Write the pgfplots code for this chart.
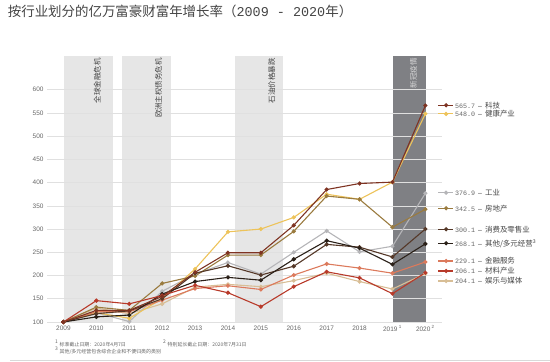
\documentclass[border=0pt]{standalone}
\usepackage{pgfplots}
\pgfplotsset{compat=1.18}
\usepackage{fontspec}
\setmainfont{Liberation Sans}
\newfontfamily\cjk{Noto Sans CJK SC}
\newfontfamily\monof{Liberation Mono}
\definecolor{cKeji}{HTML}{7E3322}
\definecolor{cHealth}{HTML}{EDC35A}
\definecolor{cInd}{HTML}{B5B5B8}
\definecolor{cReal}{HTML}{9A7B3F}
\definecolor{cCons}{HTML}{553828}
\definecolor{cOther}{HTML}{2A2018}
\definecolor{cFin}{HTML}{DC7A5C}
\definecolor{cMat}{HTML}{B83A2A}
\definecolor{cMedia}{HTML}{D8BE96}
\definecolor{cShade}{HTML}{E6E6E6}
\definecolor{cDark}{HTML}{7F8084}
\definecolor{cTxt}{HTML}{444444}
\definecolor{cTick}{HTML}{666666}
\newcommand{\leg}[4]{%
  \addplot[color=#1, mark=*, mark options={fill=#1}, mark indices={2}, forget plot] coordinates {(2020.39,#2) (2020.63,#2) (2020.84,#2)};
  \node[anchor=west, inner sep=0pt] at (axis cs:2020.9,#2) {{\fontsize{6.7}{7}\monof\color{cTick}#3}\hspace{3bp}{\fontsize{7}{7}\selectfont\color{cTxt}--}\hspace{3bp}{\fontsize{7.5}{8}\cjk\color{cTxt}#4}};
}
\begin{document}
\begin{tikzpicture}[x=1bp,y=1bp]
\node[anchor=base west, inner sep=0pt, text=cTxt] at (7.7,345) {\fontsize{13.5}{14}\cjk 按行业划分的亿万富豪财富年增长率（{\monof 2009 - 2020}年）};
\begin{axis}[
  at={(47bp,39bp)}, anchor=south west,
  width=394.8bp, height=266.3bp, scale only axis,
  xmin=2008.5, xmax=2020.5, ymin=100, ymax=673,
  axis line style={draw=none}, tick style={draw=none},
  ytick={100,150,200,250,300,350,400,450,500,550,600},
  ymajorgrids, grid style={color=black!12, line width=0.6bp},
  xtick={2009,2010,2011,2012,2013,2014,2015,2016,2017,2018,2019,2020},
  xticklabels={2009,2010,2011,2012,2013,2014,2015,2016,2017,2018,2019\textsuperscript{ 1},2020\textsuperscript{ 2}},
  tick label style={font=\fontsize{6.5}{7}\selectfont, text=cTick},
  /pgf/number format/assume math mode=true,
  clip=false, set layers,
  every axis plot/.append style={line width=1.1bp, mark size=1.5bp},
]
\begin{pgfonlayer}{axis background}
\fill[cShade] (axis cs:2009.02,100) rectangle (axis cs:2010.5,673);
\fill[cShade] (axis cs:2010.78,100) rectangle (axis cs:2012.26,673);
\fill[cShade] (axis cs:2014.2,100) rectangle (axis cs:2015.67,673);
\fill[cDark] (axis cs:2019.03,100) rectangle (axis cs:2020.03,673);
\end{pgfonlayer}
\node[rotate=90, anchor=east, inner sep=0pt, text=cTxt] at (axis cs:2010.03,668) {\fontsize{7.5}{8}\cjk 全球金融危机};
\node[rotate=90, anchor=east, inner sep=0pt, text=cTxt] at (axis cs:2011.89,668) {\fontsize{7.5}{8}\cjk 欧洲主权债务危机};
\node[rotate=90, anchor=east, inner sep=0pt, text=cTxt] at (axis cs:2015.33,668) {\fontsize{7.5}{8}\cjk 石油价格暴跌};
\node[rotate=90, anchor=east, inner sep=0pt, text=black!15] at (axis cs:2019.64,668) {\fontsize{7.5}{8}\cjk 新冠疫情};

% 娱乐与媒体
\addplot[color=cMedia, mark=*, mark options={fill=cMedia}] coordinates {
(2009,100)(2010,130)(2011,118)(2012,139)(2013,175)(2014,181)(2015,176)(2016,189)(2017,205)(2018,187)(2019,171)(2020,204.1)};
% 工业
\addplot[color=cInd, mark=*, mark options={fill=cInd}] coordinates {
(2009,100)(2010,120)(2011,101)(2012,166)(2013,203)(2014,228)(2015,203)(2016,250)(2017,296)(2018,251)(2019,263)(2020,376.9)};
% 健康产业
\addplot[color=cHealth, mark=*, mark options={fill=cHealth}] coordinates {
(2009,100)(2010,120)(2011,108)(2012,150)(2013,214)(2014,294)(2015,300)(2016,325)(2017,375)(2018,364)(2019,401)(2020,548.0)};
% 金融服务
\addplot[color=cFin, mark=*, mark options={fill=cFin}] coordinates {
(2009,100)(2010,122)(2011,122)(2012,147)(2013,172)(2014,178)(2015,170)(2016,201)(2017,225)(2018,216)(2019,205)(2020,229.1)};
% 房地产
\addplot[color=cReal, mark=*, mark options={fill=cReal}] coordinates {
(2009,100)(2010,132)(2011,125)(2012,183)(2013,199)(2014,244)(2015,244)(2016,295)(2017,371)(2018,364)(2019,304)(2020,342.5)};
% 消费及零售业
\addplot[color=cCons, mark=*, mark options={fill=cCons}] coordinates {
(2009,100)(2010,118)(2011,124)(2012,150)(2013,205)(2014,221)(2015,201)(2016,220)(2017,267)(2018,261)(2019,240)(2020,300.1)};
% 其他/多元经营
\addplot[color=cOther, mark=*, mark options={fill=cOther}] coordinates {
(2009,100)(2010,111)(2011,115)(2012,160)(2013,187)(2014,196)(2015,190)(2016,235)(2017,275)(2018,259)(2019,224)(2020,268.1)};
% 材料产业
\addplot[color=cMat, mark=*, mark options={fill=cMat}] coordinates {
(2009,100)(2010,146)(2011,139)(2012,157)(2013,179)(2014,163)(2015,133)(2016,176)(2017,208)(2018,195)(2019,161)(2020,206.1)};
% 科技
\addplot[color=cKeji, mark=*, mark options={fill=cKeji}] coordinates {
(2009,100)(2010,125)(2011,125)(2012,155)(2013,207)(2014,249)(2015,249)(2016,308)(2017,385)(2018,398)(2019,401)(2020,565.7)};

\leg{cKeji}{566.4}{565.7}{科技}
\leg{cHealth}{547.7}{548.0}{健康产业}
\leg{cInd}{378.3}{376.9}{工业}
\leg{cReal}{344.7}{342.5}{房地产}
\leg{cCons}{299.5}{300.1}{消费及零售业}
\leg{cOther}{269.4}{268.1}{其他/多元经营\textsuperscript{3}}
\leg{cFin}{231.3}{229.1}{金融服务}
\leg{cMat}{209.8}{206.1}{材料产业}
\leg{cMedia}{188.2}{204.1}{娱乐与媒体}
\end{axis}
\node[anchor=base west, inner sep=0pt, text=cTick] at (55,15) {\fontsize{5}{6}\cjk \textsuperscript{1} 标准截止日期：2020年4月7日};
\node[anchor=base west, inner sep=0pt, text=cTick] at (163,15) {\fontsize{5}{6}\cjk \textsuperscript{2} 特别延长截止日期：2020年7月31日};
\node[anchor=base west, inner sep=0pt, text=cTick] at (55,8) {\fontsize{5}{6}\cjk \textsuperscript{3} 其他/多元经营包含综合企业和不便归类的类别};
\draw[black!15, line width=0.8bp] (10,1) -- (550,1);
\pgfresetboundingbox
\path (0,0) rectangle (550,361);
\end{tikzpicture}
\end{document}
